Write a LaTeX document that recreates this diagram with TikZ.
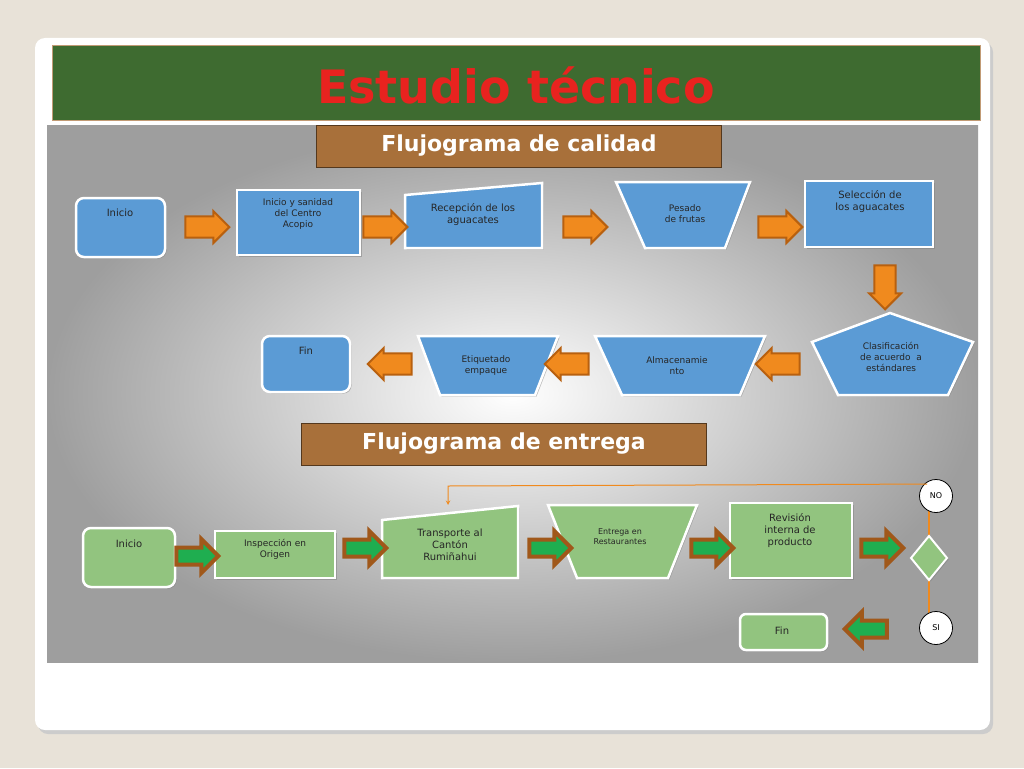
\documentclass[tikz,border=0pt]{standalone}
\usepackage{fontspec}
\setmainfont{DejaVu Sans}
\usetikzlibrary{shapes.arrows,shadows}
\definecolor{bg}{HTML}{E8E2D8}
\definecolor{hdr}{HTML}{3E6B30}
\definecolor{ttl}{HTML}{E8231F}
\definecolor{brn}{HTML}{A8703A}
\definecolor{blu}{HTML}{5B9BD5}
\definecolor{grn}{HTML}{92C47F}
\definecolor{org}{HTML}{F08A1E}
\definecolor{dorg}{HTML}{B8600F}
\definecolor{arrg}{HTML}{1FAE50}
\definecolor{arrb}{HTML}{A0581A}
\tikzset{
 box/.style={draw=white,line width=2.5pt,drop shadow={shadow xshift=1.5pt,shadow yshift=-1.5pt,opacity=.5}},
 bbox/.style={box,fill=blu},
 gbox/.style={box,fill=grn},
 lbl/.style={align=center,font=\fontsize{10}{12}\selectfont,text=black!85},
 oarr/.style={single arrow,fill=org,draw=dorg,line width=2pt,minimum height=44pt,minimum width=32pt,single arrow head extend=3pt,inner sep=5pt},
 garr/.style={single arrow,fill=arrg,draw=arrb,line width=4pt,minimum height=42pt,minimum width=34pt,single arrow head extend=4pt,inner sep=2pt},
 sect/.style={draw=brn!50!black,line width=1pt,fill=brn,text=white,font=\bfseries\fontsize{22}{26}\selectfont,minimum width=405pt,minimum height=42pt},
 circ/.style={draw=black,line width=0.8pt,circle,fill=white,minimum size=33pt,inner sep=0pt,font=\fontsize{8}{10}\selectfont}
}
\begin{document}
\begin{tikzpicture}[x=1pt,y=-1pt]
\useasboundingbox (0,0) rectangle (1024,768);
\fill[bg] (0,0) rectangle (1024,768);
\fill[black!20,rounded corners=10pt] (38,42) rectangle (993,734);
\fill[white,rounded corners=10pt] (35,38) rectangle (990,730);
\shade[outer color=black!38,inner color=white] (47,125) rectangle (978,662);
\draw[fill=hdr,draw=brn!70] (52,45) rectangle (980,120);
\node (title) [text=ttl] at (516,85) {\bfseries\fontsize{46}{50}\selectfont Estudio técnico};
\node (s1) [sect] at (519,146) {Flujograma de calidad};
\node (s2) [sect] at (504,444) {Flujograma de entrega};
% row 1
\draw[bbox,rounded corners=8pt] (76,198) rectangle (165,257);
\node (b1) [lbl,anchor=north] at (120,205) {Inicio};
\draw[bbox] (237,190) rectangle (360,255);
\node (b2) [lbl,font=\fontsize{9}{11}\selectfont,anchor=north] at (298,195) {Inicio y sanidad\\del Centro\\Acopio};
\draw[bbox] (405,195) -- (542,183) -- (542,248) -- (405,248) -- cycle;
\node (b3) [lbl,anchor=north] at (473,200) {Recepción de los\\aguacates};
\draw[bbox] (616,182) -- (750,182) -- (725,248) -- (645,248) -- cycle;
\node (b4) [lbl,font=\fontsize{9}{11}\selectfont] at (685,214) {Pesado\\de frutas};
\draw[bbox] (805,181) rectangle (933,247);
\node (b5) [lbl,anchor=north] at (870,187) {Selección de\\los aguacates};
\draw[bbox] (890,313) -- (973,342) -- (948,395) -- (838,395) -- (812,342) -- cycle;
\node (b6) [lbl,font=\fontsize{9}{11}\selectfont] at (891,357) {Clasificación\\de acuerdo\ \ a\\estándares};
\draw[bbox] (595,336) -- (765,336) -- (740,395) -- (622,395) -- cycle;
\node (b7) [lbl,font=\fontsize{9}{11}\selectfont] at (677,366) {Almacenamie\\nto};
\draw[bbox] (418,336) -- (558,336) -- (535,395) -- (440,395) -- cycle;
\node (b8) [lbl,font=\fontsize{9}{11}\selectfont] at (486,366) {Etiquetado\\empaque};
\draw[bbox,rounded corners=8pt] (262,336) rectangle (350,392);
\node (b9) [lbl,anchor=north] at (306,343) {Fin};
\node (a1) [oarr] at (202,227) {};
\node (a2) [oarr] at (380,227) {};
\node (a3) [oarr] at (580,227) {};
\node (a4) [oarr] at (775,227) {};
\node (a5) [oarr,shape border rotate=270] at (885,282) {};
\node (a6) [oarr,shape border rotate=180] at (783,364) {};
\node (a7) [oarr,shape border rotate=180] at (572,364) {};
\node (a8) [oarr,shape border rotate=180] at (395,364) {};
% row 3
\draw[gbox,rounded corners=8pt] (83,528) rectangle (175,587);
\node (g1) [lbl,anchor=north] at (129,536) {Inicio};
\draw[gbox] (215,531) rectangle (335,578);
\node (g2) [lbl,font=\fontsize{9}{11}\selectfont,anchor=north] at (275,536) {Inspección en\\Origen};
\draw[gbox] (382,520) -- (518,506) -- (518,578) -- (382,578) -- cycle;
\node (g3) [lbl,anchor=north] at (450,525) {Transporte al\\Cantón\\Rumiñahui};
\draw[gbox] (548,505) -- (697,505) -- (668,578) -- (577,578) -- cycle;
\node (g4) [lbl,font=\fontsize{8}{10}\selectfont] at (620,537) {Entrega en\\Restaurantes};
\draw[gbox] (730,503) rectangle (852,578);
\node (g5) [lbl,anchor=north] at (790,510) {Revisión\\interna de\\producto};
\draw[org,line width=1.2pt] (929,500) -- (929,620);
\draw[gbox,line width=2pt] (929,536) -- (947,558) -- (929,580) -- (911,558) -- cycle;
\node (no) [circ] at (936,496) {NO};
\node (si) [circ] at (936,628) {SI};
\draw[gbox,rounded corners=6pt] (740,614) rectangle (827,650);
\node (g6) [lbl] at (782,631) {Fin};
\node (c1) [garr] at (193,556) {};
\node (c2) [garr] at (361,548) {};
\node (c3) [garr] at (546,548) {};
\node (c4) [garr] at (708,548) {};
\node (c5) [garr] at (878,548) {};
\node (c6) [garr,shape border rotate=180] at (870,629) {};
\coordinate (tp) at (448,505);
\draw[org,line width=1pt,-stealth] (no.north west) ++(3,0) -- (448,486) -- (tp);
\end{tikzpicture}
\end{document}
